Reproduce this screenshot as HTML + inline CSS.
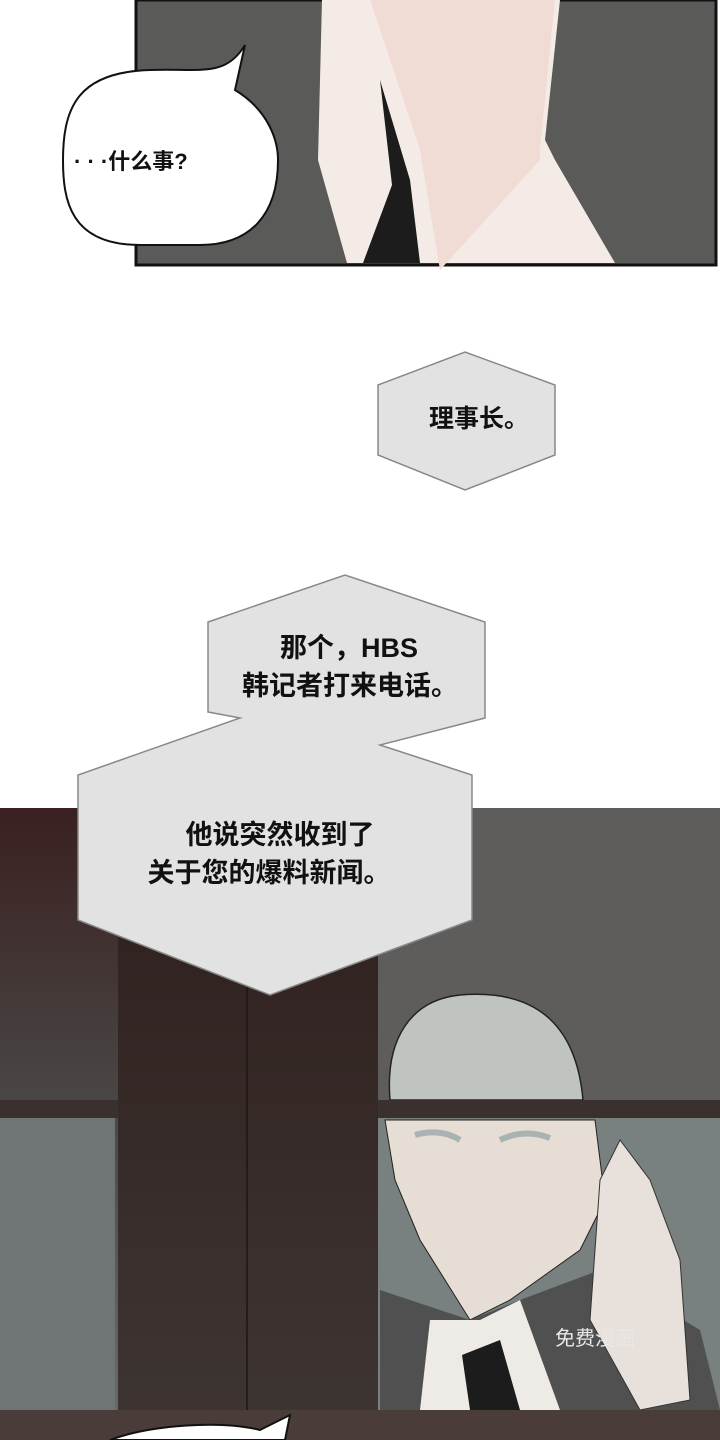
<!DOCTYPE html>
<html><head><meta charset="utf-8"><style>
body{margin:0;width:720px;height:1440px;overflow:hidden;background:#fff}
svg{display:block}
text{font-family:"Liberation Sans","Noto Sans CJK SC",sans-serif;font-weight:bold;fill:#111}
</style></head><body>
<svg width="720" height="1440" viewBox="0 0 720 1440">
<defs>
<linearGradient id="lg" x1="0" y1="0" x2="0" y2="1"><stop offset="0" stop-color="#3a2020"/><stop offset="0.5" stop-color="#4a4a48"/><stop offset="1" stop-color="#6a6e6d"/></linearGradient>
<linearGradient id="pil" x1="0" y1="0" x2="0" y2="1"><stop offset="0" stop-color="#2e1e1c"/><stop offset="1" stop-color="#3e3633"/></linearGradient>
</defs>
<rect x="136" y="0" width="580" height="265" fill="#5a5a58" stroke="#111" stroke-width="3"/>
<polygon points="322,0 560,0 545,140 555,160 615,263 347,263 318,160" fill="#f4ebe7"/>
<polygon points="370,0 555,0 540,150 540,160 440,270 420,150" fill="#f0dcd4"/>
<polygon points="380,80 410,180 420,263 363,263 392,185" fill="#1c1c1c"/>
<path d="M140,245 C70,245 63,200 63,160 C63,105 80,72 150,70 C200,68 225,78 245,45 L235,90 C268,110 278,140 278,160 C278,215 250,245 200,245 Z" fill="#fff" stroke="#111" stroke-width="2"/>
<text x="74" y="169" font-size="22">· · ·什么事?</text>
<polygon points="378,385 465,352 555,385 555,455 465,490 378,455" fill="#e2e2e2" stroke="#888" stroke-width="1.5"/>
<text x="479" y="427" font-size="25" text-anchor="middle">理事长。</text>
<rect x="0" y="808" width="720" height="632" fill="#5c5b59"/>
<rect x="0" y="808" width="118" height="632" fill="url(#lg)"/>
<rect x="0" y="1100" width="118" height="18" fill="#3a302e"/>
<rect x="0" y="1118" width="115" height="300" fill="#6e7574"/>
<rect x="118" y="808" width="260" height="632" fill="url(#pil)"/>
<line x1="247" y1="808" x2="247" y2="1440" stroke="#1e1614" stroke-width="1.5"/>
<rect x="378" y="808" width="342" height="292" fill="#5e5d5b"/>
<rect x="378" y="1118" width="342" height="292" fill="#78817f"/>
<path d="M390,1100 C385,1040 410,1000 460,995 C520,990 575,1010 583,1100 Z" fill="#bfc4c1" stroke="#222" stroke-width="1.5"/>
<path d="M385,1120 L595,1120 L605,1200 L580,1250 L510,1300 L470,1320 L420,1240 L395,1180 Z" fill="#e6ddd4" stroke="#222" stroke-width="1"/>
<path d="M415,1135 Q440,1128 460,1140 M500,1140 Q525,1128 550,1138" stroke="#a9b3b3" stroke-width="6" fill="none"/>
<path d="M380,1290 L470,1320 L520,1300 L600,1270 L700,1330 L720,1410 L380,1410 Z" fill="#505050"/>
<path d="M430,1320 L480,1320 L520,1300 L560,1410 L420,1410 Z" fill="#eeeae6"/>
<path d="M462,1355 L500,1340 L520,1410 L470,1410 Z" fill="#1c1c1c"/>
<path d="M600,1180 L620,1140 L650,1180 L680,1260 L690,1400 L640,1410 L590,1320 Z" fill="#e8e0da" stroke="#333" stroke-width="1"/>
<rect x="378" y="1100" width="342" height="18" fill="#3a302e"/>
<rect x="0" y="1410" width="720" height="30" fill="#4a3c38"/>
<text x="595" y="1345" font-size="20" text-anchor="middle" style="fill:#e8e8e8;font-weight:normal">免费漫画</text>
<path d="M110,1440 C150,1425 220,1420 260,1430 L290,1415 L285,1440 Z" fill="#fff" stroke="#111" stroke-width="2"/>
<polygon points="208,622 345,575 485,622 485,718 380,745 472,775 472,920 270,995 78,920 78,775 240,718 208,712" fill="#e2e2e2" stroke="#888" stroke-width="1.5"/>
<text x="349" y="657" font-size="27" text-anchor="middle">那个，HBS</text>
<text x="350" y="695" font-size="27" text-anchor="middle">韩记者打来电话。</text>
<text x="280" y="844" font-size="27" text-anchor="middle">他说突然收到了</text>
<text x="269" y="882" font-size="27" text-anchor="middle">关于您的爆料新闻。</text>
</svg>
</body></html>
